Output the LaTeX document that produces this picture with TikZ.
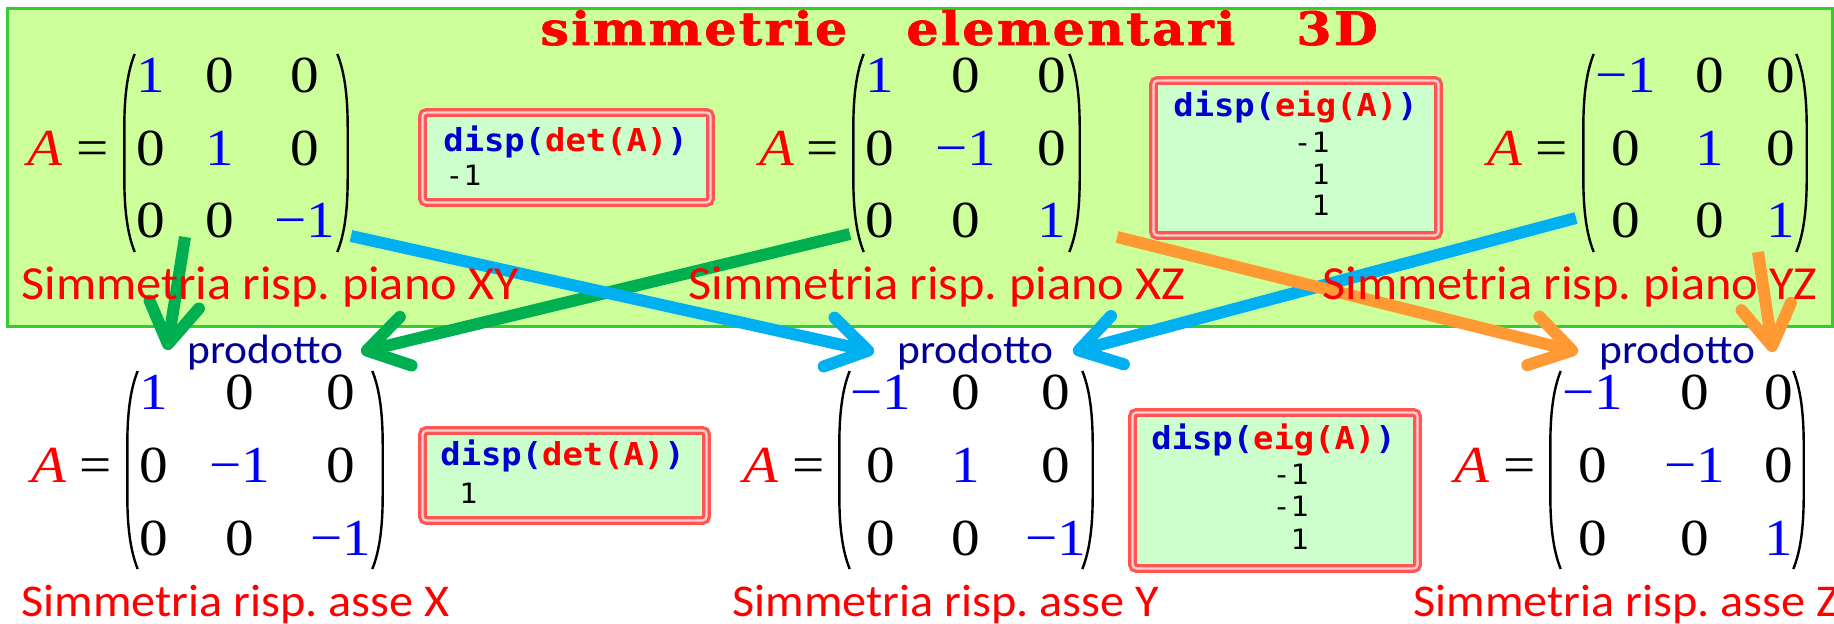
\documentclass[tikz,border=0pt]{standalone}
\usepackage{fontspec}
\usepackage{tikz}
\usepackage{xcolor}
\usetikzlibrary{arrows.meta}
\newfontfamily\lblfont[FakeStretch=1.06]{Carlito}
\newfontfamily\mtxfont[FakeStretch=1.1]{Liberation Serif}
\newfontfamily\codefont[FakeStretch=1.07]{DejaVu Sans Mono}
\newfontfamily\titlefont[LetterSpace=5, FakeStretch=1.1, FakeBold=1.5]{DejaVu Serif Bold}
\definecolor{boxgreen}{RGB}{204,255,153}
\definecolor{boxline}{RGB}{51,204,51}
\definecolor{codefill}{RGB}{204,255,204}
\definecolor{codeline}{RGB}{255,85,85}
\definecolor{codegap}{RGB}{255,210,210}
\definecolor{codeblue}{RGB}{0,0,204}
\definecolor{prodblue}{RGB}{0,0,153}
\definecolor{diagblue}{RGB}{0,0,255}
\definecolor{arrgreen}{RGB}{0,176,80}
\definecolor{arrblue}{RGB}{0,176,240}
\definecolor{arrorange}{RGB}{255,153,51}
\frenchspacing

\begin{document}
\begin{tikzpicture}[x=0.5pt, y=-0.5pt,
  ent/.style={font=\mtxfont\fontsize{26}{26}\selectfont, inner sep=0pt, anchor=base},
  lbl/.style={font=\lblfont\fontsize{23.75}{24}\selectfont, text=red, inner sep=0pt, anchor=base west},
  lblb/.style={lbl, font=\lblfont\fontsize{22.75}{24}\selectfont},
  prod/.style={font=\lblfont\fontsize{20.5}{20}\selectfont, text=prodblue, inner sep=0pt, anchor=base west},
  code/.style={font=\codefont\bfseries\fontsize{15.8}{16}\selectfont, text=codeblue, inner sep=0pt, anchor=base west},
  val/.style={font=\codefont\fontsize{14}{14}\selectfont, inner sep=0pt},
  codebox/.style={draw=codeline, line width=1.65pt, double=codegap, double distance=1.15pt,
    fill=codefill, rounded corners=2pt, inner sep=0pt},
  par/.style={line width=1.2pt},
  arr/.style={line width=6pt, -{Straight Barb[length=20pt, width=25pt, round]}},
  ttl/.style={font=\titlefont\fontsize{23}{24}\selectfont, text=red, inner sep=0pt, anchor=base west}]
\useasboundingbox (0,0) rectangle (1834,624);
\clip (0,0) rectangle (1834,624);

% riquadro verde
\draw[boxline, line width=1.5pt, fill=boxgreen] (7,9) rectangle (1832,327);

% estremi delle frecce
\coordinate (g1a) at (185,237);  \coordinate (g1b) at (167,350);
\coordinate (g2a) at (850,234);  \coordinate (g2b) at (361,352);
\coordinate (b1a) at (351,236);  \coordinate (b1b) at (874,352);
\coordinate (b2a) at (1576,218); \coordinate (b2b) at (1073,352);
\coordinate (o1a) at (1117,237); \coordinate (o1b) at (1578,352);
\coordinate (o2a) at (1758,252); \coordinate (o2b) at (1773,352);
\draw[arr, arrgreen] (g1a) -- (g1b);
\draw[arr, arrgreen] (g2a) -- (g2b);
\draw[arr, arrblue] (b1a) -- (b1b);
\draw[arr, arrblue] (b2a) -- (b2b);
\draw[arr, arrorange] (o1a) -- (o1b);
\draw[arr, arrorange] (o2a) -- (o2b);

% titolo
\node[ttl] (t1) at (540,45) {simmetrie};
\node[ttl] (t2) at (906,45) {elementari};
\node[ttl] (t3) at (1296,45) {3D};

% matrici
\foreach \m/\pa/\pe/\pl/\ca/\cb/\cc/\pr/\da/\db/\dc/\yt in {
  1/44.5/93/123/151/220/305/349/1/1/−1/53,
  2/776.5/823/852/880/966/1052/1081/1/−1/1/53,
  3/1504.5/1552/1582/1626/1710/1781/1808/−1/1/1/53,
  4/48.5/96/126/154/240/341/384/1/−1/−1/370,
  5/761/808.5/838/881/966/1056/1094/−1/1/−1/370,
  6/1472/1519.5/1549/1593/1695/1779/1805/−1/−1/1/370} {
  \node[ent, text=red] (a\m) at (\pa,\yt+112.5) {\itshape A};
  \node[ent] (eq\m) at (\pe,\yt+112.5) {=};
  \draw[par] (\pl+11.7,\yt+1) .. controls (\pl+4,\yt+20) and (\pl+1.3,\yt+45) .. (\pl+1.3,\yt+75)
    -- (\pl+1.3,\yt+125) .. controls (\pl+1.3,\yt+155) and (\pl+4,\yt+180) .. (\pl+11.7,\yt+199);
  \draw[par] (\pr-11.7,\yt+1) .. controls (\pr-4,\yt+20) and (\pr-1.3,\yt+45) .. (\pr-1.3,\yt+75)
    -- (\pr-1.3,\yt+125) .. controls (\pr-1.3,\yt+155) and (\pr-4,\yt+180) .. (\pr-11.7,\yt+199);
  \node[ent, text=diagblue] (m\m-11) at (\ca,\yt+40) {\da};
  \node[ent] (m\m-12) at (\cb,\yt+40) {0};
  \node[ent] (m\m-13) at (\cc,\yt+40) {0};
  \node[ent] (m\m-21) at (\ca,\yt+112.5) {0};
  \node[ent, text=diagblue] (m\m-22) at (\cb,\yt+112.5) {\db};
  \node[ent] (m\m-23) at (\cc,\yt+112.5) {0};
  \node[ent] (m\m-31) at (\ca,\yt+185) {0};
  \node[ent] (m\m-32) at (\cb,\yt+185) {0};
  \node[ent, text=diagblue] (m\m-33) at (\cc,\yt+185) {\dc};
}

% riquadri MATLAB
\node[codebox, minimum width=144pt, minimum height=45pt] (det1) at (566.5,157.5) {};
\node[code] (det1c) at (443,152) {disp(\textcolor{red}{det(A)})};
\node[val, anchor=base west] (det1v) at (445,186) {-1};

\node[codebox, minimum width=142pt, minimum height=45pt] (det2) at (564.5,475.5) {};
\node[code] (det2c) at (440,466) {disp(\textcolor{red}{det(A)})};
\node[val, anchor=base west] (det2v) at (459,503) {1};

\node[codebox, minimum width=142.5pt, minimum height=77.5pt] (eig1) at (1296,158) {};
\node[code] (eig1c) at (1173,117) {disp(\textcolor{red}{eig(A)})};
\foreach \v/\yy [count=\i] in {-1/153, 1/184.5, 1/216}
  \node[val, anchor=base east] (eig1v\i) at (1330,\yy) {\v};

\node[codebox, minimum width=142.5pt, minimum height=78pt] (eig2) at (1275,490.5) {};
\node[code] (eig2c) at (1151,450) {disp(\textcolor{red}{eig(A)})};
\foreach \v/\yy [count=\i] in {-1/484, -1/516, 1/549}
  \node[val, anchor=base east] (eig2v\i) at (1309,\yy) {\v};

% didascalie
\node[lbl] (sxy) at (21,300) {Simmetria risp. piano XY};
\node[lbl] (sxz) at (688,300) {Simmetria risp. piano XZ};
\node[lbl] (syz) at (1322,300) {Simmetria risp. piano YZ};
\node[lblb] (sx) at (21,616) {Simmetria risp. asse X};
\node[lblb] (sy) at (732,616) {Simmetria risp. asse Y};
\node[lblb] (sz) at (1413,616) {Simmetria risp. asse Z};

\node[prod] (p1) at (187,364) {prodotto};
\node[prod] (p2) at (897,364) {prodotto};
\node[prod] (p3) at (1599,364) {prodotto};
\end{tikzpicture}
\end{document}
